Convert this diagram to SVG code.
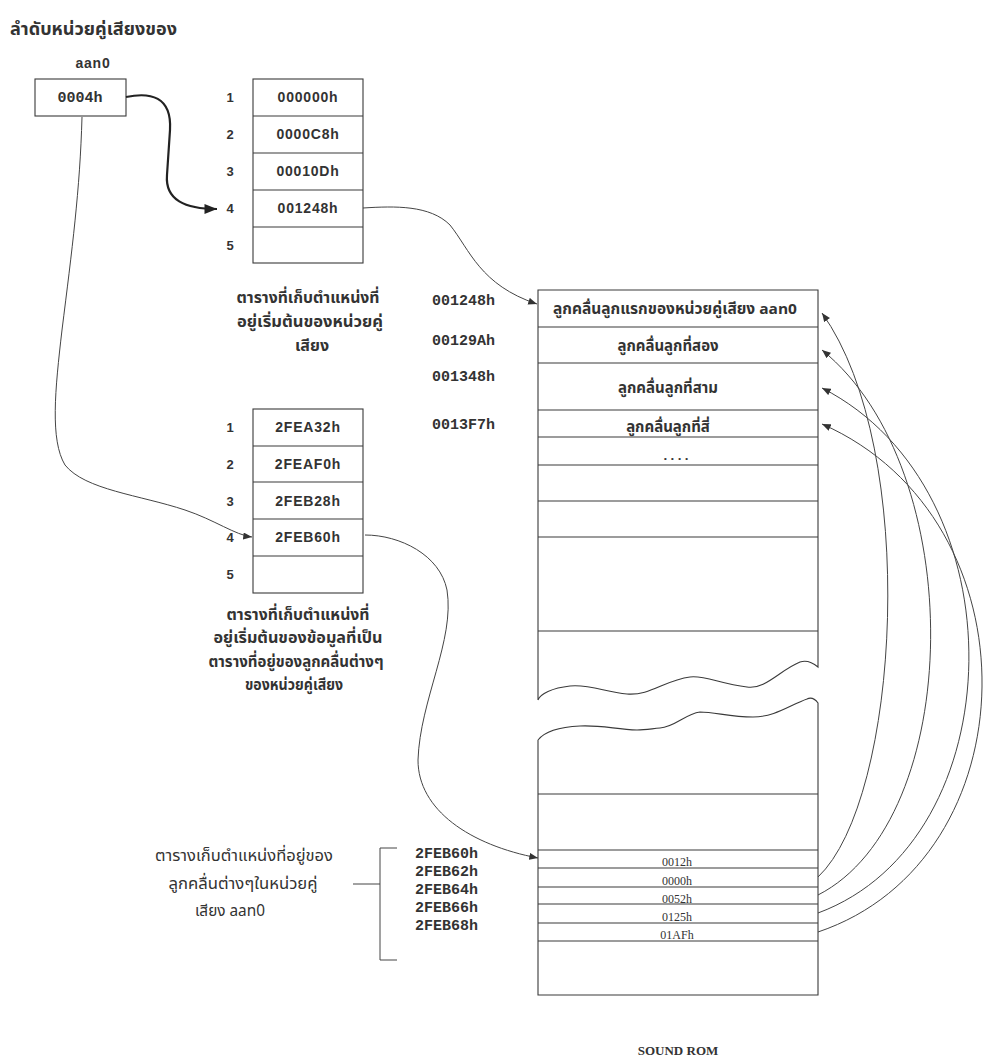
<svg xmlns="http://www.w3.org/2000/svg" width="984" height="1060" viewBox="0 0 984 1060">
  <style>
    .bg { fill: #ffffff; }
    .box { fill: none; stroke: #3a3a3a; stroke-width: 1.1; }
    .rule { stroke: #3a3a3a; stroke-width: 1.1; }
    .cell { font-family: "Liberation Sans", Arial, sans-serif; font-weight: bold; font-size: 14px; fill: #333; text-anchor: middle; letter-spacing: 0.8px; }
    .idx { font-family: "Liberation Sans", Arial, sans-serif; font-weight: bold; font-size: 13px; fill: #333; text-anchor: middle; }
    .mono { font-family: "Liberation Mono", "Courier New", monospace; font-weight: bold; font-size: 15px; fill: #333; }
    .thai { font-family: "Noto Sans Thai", "Noto Sans", "DejaVu Sans", sans-serif; font-weight: bold; font-size: 16px; fill: #333; text-anchor: middle; }
    .thai-r { font-family: "Noto Sans Thai", "Noto Sans", "DejaVu Sans", sans-serif; font-size: 16px; fill: #333; text-anchor: middle; }
    .serif { font-family: "Liberation Serif", "Times New Roman", serif; font-size: 12px; fill: #333; text-anchor: middle; }
    .wire { fill: none; stroke: #444; stroke-width: 1; }
    .wire-bold { fill: none; stroke: #222; stroke-width: 2.2; }
  </style>
  <defs>
    <marker id="ah" viewBox="0 0 10 8" refX="10" refY="4" markerWidth="9" markerHeight="7" orient="auto" markerUnits="userSpaceOnUse">
      <path d="M0,0 L10,4 L0,8 z" fill="#333"/>
    </marker>
    <marker id="ah-big" viewBox="0 0 10 8" refX="10" refY="4" markerWidth="13" markerHeight="10" orient="auto" markerUnits="userSpaceOnUse">
      <path d="M0,0 L10,4 L0,8 z" fill="#222"/>
    </marker>
  </defs>

  <rect class="bg" x="0" y="0" width="984" height="1060"/>

  <!-- heading -->
  <g id="heading">
    <text x="10" y="35" class="thai" style="text-anchor:start;font-size:18px" textLength="167" lengthAdjust="spacingAndGlyphs">ลำดับหน่วยคู่เสียงของ</text>
  </g>

  <!-- current sound unit index -->
  <g id="node-unit">
    <text x="93" y="68" class="cell" style="font-size:14px">aan0</text>
    <rect class="box" x="35" y="79" width="91" height="37"/>
    <text x="80" y="102" class="mono" text-anchor="middle">0004h</text>
  </g>

  <!-- table of unit start addresses -->
  <g id="table-start">
    <rect class="box" x="253" y="79" width="110" height="184"/>
    <line class="rule" x1="253" y1="116" x2="363" y2="116"/>
    <line class="rule" x1="253" y1="153" x2="363" y2="153"/>
    <line class="rule" x1="253" y1="190" x2="363" y2="190"/>
    <line class="rule" x1="253" y1="227" x2="363" y2="227"/>
    <text class="idx" x="230" y="102">1</text>
    <text class="idx" x="230" y="139">2</text>
    <text class="idx" x="230" y="176">3</text>
    <text class="idx" x="230" y="213">4</text>
    <text class="idx" x="230" y="250">5</text>
    <text class="cell" x="308" y="102">000000h</text>
    <text class="cell" x="308" y="139">0000C8h</text>
    <text class="cell" x="308" y="176">00010Dh</text>
    <text class="cell" x="308" y="213">001248h</text>
    <text class="thai" x="308" y="303" textLength="143" lengthAdjust="spacingAndGlyphs">ตารางที่เก็บตำแหน่งที่</text>
    <text class="thai" x="310" y="327" textLength="146" lengthAdjust="spacingAndGlyphs">อยู่เริ่มต้นของหน่วยคู่</text>
    <text class="thai" x="312" y="351">เสียง</text>
  </g>

  <!-- table of wave-table start addresses -->
  <g id="table-wave">
    <rect class="box" x="253" y="409" width="110" height="184"/>
    <line class="rule" x1="253" y1="446" x2="363" y2="446"/>
    <line class="rule" x1="253" y1="482" x2="363" y2="482"/>
    <line class="rule" x1="253" y1="519" x2="363" y2="519"/>
    <line class="rule" x1="253" y1="556" x2="363" y2="556"/>
    <text class="idx" x="230" y="432">1</text>
    <text class="idx" x="230" y="469">2</text>
    <text class="idx" x="230" y="506">3</text>
    <text class="idx" x="230" y="542">4</text>
    <text class="idx" x="230" y="579">5</text>
    <text class="cell" x="308" y="432">2FEA32h</text>
    <text class="cell" x="308" y="469">2FEAF0h</text>
    <text class="cell" x="308" y="506">2FEB28h</text>
    <text class="cell" x="308" y="542">2FEB60h</text>
    <text class="thai" x="298" y="620" textLength="143" lengthAdjust="spacingAndGlyphs">ตารางที่เก็บตำแหน่งที่</text>
    <text class="thai" x="298" y="643" textLength="169" lengthAdjust="spacingAndGlyphs">อยู่เริ่มต้นของข้อมูลที่เป็น</text>
    <text class="thai" x="296" y="667" textLength="175" lengthAdjust="spacingAndGlyphs">ตารางที่อยู่ของลูกคลื่นต่างๆ</text>
    <text class="thai" x="294" y="690" textLength="98" lengthAdjust="spacingAndGlyphs">ของหน่วยคู่เสียง</text>
  </g>

  <!-- sound ROM -->
  <g id="sound-rom">
    <!-- upper part, broken at the bottom -->
    <path class="box" d="M538,700 L538,290 L818,290 L818,667 C812,662 806,660 800,662 C780,670 765,690 747,687 C720,684 705,675 690,677 C665,680 650,696 627,694 C605,692 590,684 570,686 C552,688 540,694 538,700"/>
    <line class="rule" x1="538" y1="327" x2="818" y2="327"/>
    <line class="rule" x1="538" y1="363" x2="818" y2="363"/>
    <line class="rule" x1="538" y1="410" x2="818" y2="410"/>
    <line class="rule" x1="538" y1="437" x2="818" y2="437"/>
    <line class="rule" x1="538" y1="465" x2="818" y2="465"/>
    <line class="rule" x1="538" y1="501" x2="818" y2="501"/>
    <line class="rule" x1="538" y1="537" x2="818" y2="537"/>
    <line class="rule" x1="538" y1="631" x2="818" y2="631"/>
    <!-- lower part, broken at the top -->
    <path class="box" d="M538,740 L538,995 L818,995 L818,703 C815,699 811,697 807,699 C790,705 775,717 753,717 C730,717 715,712 700,712 C685,714 675,727 660,728 C650,729 645,730 637,730 C615,729 600,725 580,726 C560,727 545,731 538,740"/>
    <line class="rule" x1="538" y1="794" x2="818" y2="794"/>
    <line class="rule" x1="538" y1="850" x2="818" y2="850"/>
    <line class="rule" x1="538" y1="868" x2="818" y2="868"/>
    <line class="rule" x1="538" y1="887" x2="818" y2="887"/>
    <line class="rule" x1="538" y1="904" x2="818" y2="904"/>
    <line class="rule" x1="538" y1="923" x2="818" y2="923"/>
    <line class="rule" x1="538" y1="941" x2="818" y2="941"/>

    <text class="thai" x="675" y="314" style="font-size:15px" textLength="244" lengthAdjust="spacingAndGlyphs">ลูกคลื่นลูกแรกของหน่วยคู่เสียง aan0</text>
    <text class="thai" x="668" y="351" style="font-size:15px">ลูกคลื่นลูกที่สอง</text>
    <text class="thai" x="668" y="393" style="font-size:15px">ลูกคลื่นลูกที่สาม</text>
    <text class="thai" x="668" y="432" style="font-size:15px">ลูกคลื่นลูกที่สี่</text>
    <text class="thai" x="676" y="460" style="font-size:13px">. . . .</text>

    <text class="serif" x="677" y="866">0012h</text>
    <text class="serif" x="677" y="885">0000h</text>
    <text class="serif" x="677" y="903">0052h</text>
    <text class="serif" x="677" y="921">0125h</text>
    <text class="serif" x="677" y="939">01AFh</text>

    <text class="mono" x="432" y="305">001248h</text>
    <text class="mono" x="432" y="345">00129Ah</text>
    <text class="mono" x="432" y="381">001348h</text>
    <text class="mono" x="432" y="429">0013F7h</text>

    <text class="serif" x="678" y="1055" style="font-weight:bold;font-size:13px">SOUND ROM</text>
  </g>

  <!-- wave address table legend -->
  <g id="legend-wave-addr">
    <text class="thai-r" x="244" y="861" textLength="178" lengthAdjust="spacingAndGlyphs">ตารางเก็บตำแหน่งที่อยู่ของ</text>
    <text class="thai-r" x="243" y="889" textLength="149" lengthAdjust="spacingAndGlyphs">ลูกคลื่นต่างๆในหน่วยคู่</text>
    <text class="thai-r" x="230" y="916" textLength="70" lengthAdjust="spacingAndGlyphs">เสียง aan0</text>
    <polyline class="wire" points="397,848 380,848 380,960 397,960"/>
    <line class="wire" x1="353" y1="884" x2="380" y2="884"/>
    <text class="mono" x="415" y="858">2FEB60h</text>
    <text class="mono" x="415" y="876">2FEB62h</text>
    <text class="mono" x="415" y="894">2FEB64h</text>
    <text class="mono" x="415" y="912">2FEB66h</text>
    <text class="mono" x="415" y="930">2FEB68h</text>
  </g>

  <!-- connectors -->
  <g id="connectors">
    <path class="wire-bold" d="M126,97 C150,92 172,96 170,130 L167,175 C165,200 185,209 217,209" marker-end="url(#ah-big)"/>
    <path class="wire" d="M82,117 C80,190 72,250 62,330 C55,390 50,440 65,465 C85,490 140,495 185,510 C215,520 235,535 252,537" marker-end="url(#ah)"/>
    <path class="wire" d="M363,208 C395,206 430,205 450,225 C470,250 480,285 537,304" marker-end="url(#ah)"/>
    <path class="wire" d="M365,535 C400,535 440,555 447,590 C455,640 420,700 418,760 C418,810 470,845 538,858" marker-end="url(#ah)"/>
    <path class="wire" d="M818,877 C900,800 920,450 822,313" marker-end="url(#ah)"/>
    <path class="wire" d="M818,895 C965,820 970,470 822,350" marker-end="url(#ah)"/>
    <path class="wire" d="M818,913 C1015,840 1022,490 822,388" marker-end="url(#ah)"/>
    <path class="wire" d="M818,932 C1032,860 1040,520 822,424" marker-end="url(#ah)"/>
  </g>
</svg>
